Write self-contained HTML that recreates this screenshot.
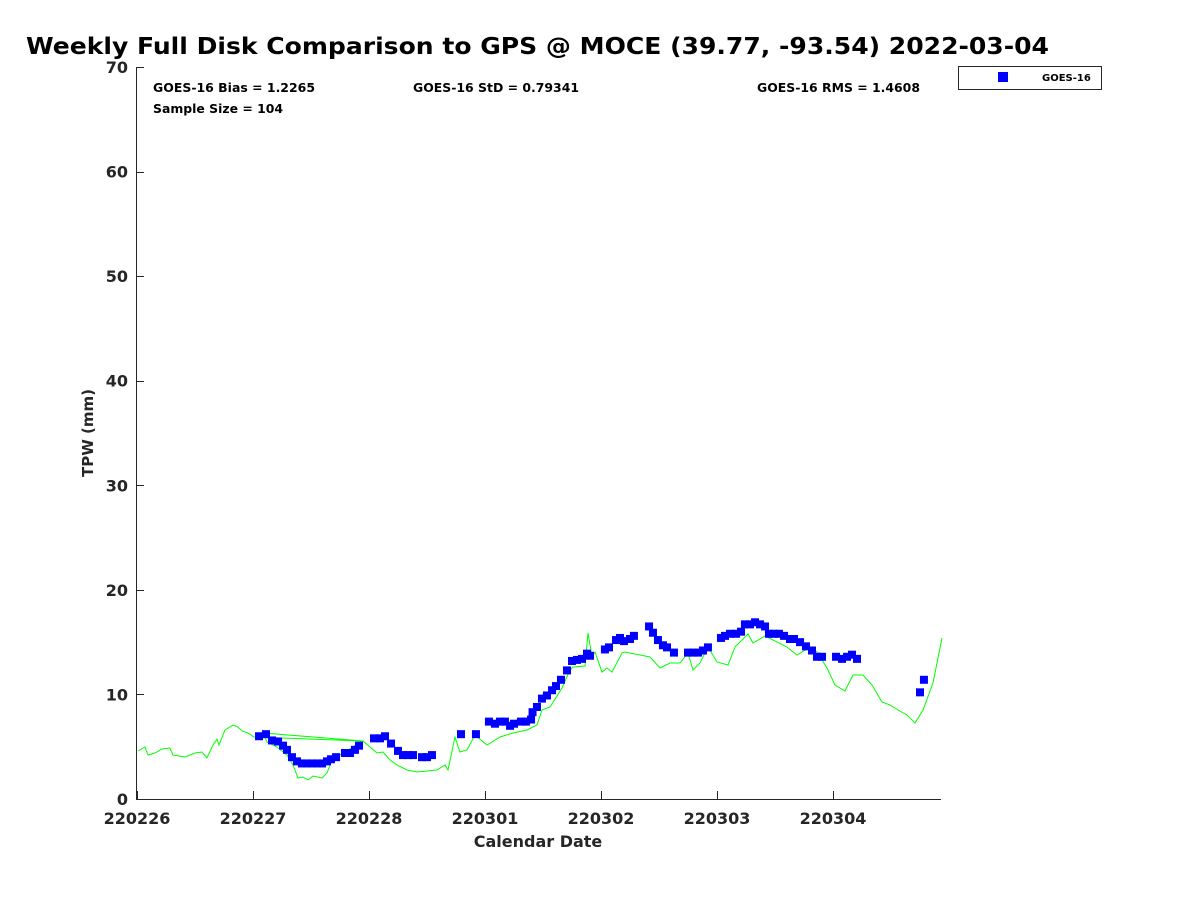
<!DOCTYPE html>
<html><head><meta charset="utf-8"><style>
body{margin:0;background:#fff;}
svg{display:block;font-family:"DejaVu Sans","Liberation Sans",sans-serif;}
</style></head><body>
<svg id="chart" width="1200" height="900" viewBox="0 0 1200 900">
<text x="26" y="54" font-size="23" font-weight="bold" fill="#000" textLength="1023" lengthAdjust="spacingAndGlyphs">Weekly Full Disk Comparison to GPS @ MOCE (39.77, -93.54) 2022-03-04</text>
<g id="axes"></g>
<g id="series"></g>
<text x="153" y="92" font-size="12" font-weight="bold" textLength="162" lengthAdjust="spacingAndGlyphs">GOES-16 Bias = 1.2265</text>
<text x="413" y="92" font-size="12" font-weight="bold" textLength="166" lengthAdjust="spacingAndGlyphs">GOES-16 StD = 0.79341</text>
<text x="757" y="92" font-size="12" font-weight="bold" textLength="163" lengthAdjust="spacingAndGlyphs">GOES-16 RMS = 1.4608</text>
<text x="153" y="113" font-size="12" font-weight="bold" textLength="130" lengthAdjust="spacingAndGlyphs">Sample Size = 104</text>
<g>
<rect x="958.5" y="66.5" width="143" height="23" fill="#fff" stroke="#262626" stroke-width="1"/>
<rect x="998" y="72" width="10" height="10" fill="#0000ff"/>
<text x="1042" y="81" font-size="10" font-weight="bold">GOES-16</text>
</g>
<text x="538" y="847" font-size="16" font-weight="bold" fill="#262626" text-anchor="middle">Calendar Date</text>
<text transform="translate(93,433) rotate(-90)" font-size="15" font-weight="bold" fill="#262626" text-anchor="middle">TPW (mm)</text>
</svg>
<script>
const xTickLabels = ["220226","220227","220228","220301","220302","220303","220304"];
const yTicks = [0,10,20,30,40,50,60,70];
const goesDays = [1.052,1.112,1.164,1.216,1.259,1.293,1.336,1.379,1.422,1.466,1.509,1.552,1.595,1.638,1.672,1.716,1.793,1.836,1.879,1.914,2.043,2.095,2.138,2.190,2.25,2.293,2.336,2.379,2.457,2.5,2.543,2.793,2.922,3.034,3.086,3.129,3.172,3.216,3.25,3.310,3.353,3.397,3.41,3.448,3.491,3.534,3.578,3.612,3.655,3.707,3.75,3.793,3.836,3.879,3.905,4.034,4.069,4.129,4.164,4.198,4.25,4.284,4.414,4.448,4.491,4.534,4.569,4.629,4.75,4.793,4.836,4.879,4.922,5.034,5.069,5.112,5.164,5.207,5.241,5.284,5.328,5.371,5.414,5.448,5.491,5.534,5.578,5.629,5.664,5.716,5.767,5.819,5.862,5.905,6.026,6.078,6.121,6.164,6.207,6.75,6.784];
const goesVals = [6.0,6.2,5.6,5.5,5.1,4.7,4.0,3.6,3.4,3.4,3.4,3.4,3.4,3.6,3.8,4.0,4.4,4.4,4.7,5.1,5.8,5.8,6.0,5.3,4.6,4.2,4.2,4.2,4.0,4.0,4.2,6.2,6.2,7.4,7.2,7.4,7.4,7.0,7.2,7.4,7.4,7.6,8.3,8.8,9.6,9.9,10.4,10.8,11.4,12.3,13.2,13.3,13.4,13.9,13.7,14.3,14.5,15.2,15.4,15.1,15.3,15.6,16.5,15.9,15.2,14.7,14.5,14.0,14.0,14.0,14.0,14.2,14.5,15.4,15.6,15.8,15.8,16.0,16.7,16.7,16.9,16.7,16.5,15.8,15.8,15.8,15.6,15.3,15.3,15.0,14.6,14.2,13.6,13.6,13.6,13.4,13.6,13.8,13.4,10.2,11.4];
const gpsDays = [0.009,0.069,0.095,0.155,0.216,0.284,0.310,0.414,0.5,0.560,0.603,0.655,0.690,0.707,0.759,0.828,0.871,0.905,0.957,1.009,1.948,1.086,1.121,1.207,1.293,1.345,1.388,1.431,1.474,1.517,1.595,1.638,1.681,1.776,1.862,1.922,1.948,2.009,2.069,2.121,2.181,2.241,2.328,2.414,2.5,2.586,2.655,2.681,2.741,2.784,2.845,2.914,3.017,3.129,3.241,3.362,3.448,3.491,3.560,3.664,3.733,3.759,3.862,3.888,3.922,3.948,4.009,4.052,4.095,4.181,4.207,4.336,4.422,4.509,4.595,4.681,4.750,4.793,4.853,4.922,5.0,5.095,5.155,5.267,5.310,5.414,5.483,5.603,5.690,5.802,5.862,5.948,6.017,6.103,6.172,6.259,6.336,6.422,6.491,6.560,6.638,6.707,6.776,6.862,6.940];
const gpsVals = [4.59,4.97,4.21,4.40,4.78,4.88,4.21,4.02,4.40,4.49,3.92,5.16,5.74,5.16,6.60,7.08,6.89,6.50,6.31,5.93,5.55,6.31,5.45,4.97,4.21,3.25,2.01,2.10,1.82,2.20,2.01,2.49,3.73,4.40,4.97,5.45,5.55,4.97,4.40,4.49,3.73,3.25,2.77,2.58,2.68,2.77,3.25,2.77,5.93,4.49,4.69,6.12,5.16,5.93,6.31,6.60,7.08,8.51,8.80,10.61,12.34,12.62,12.72,15.87,13.58,14.06,12.14,12.53,12.14,13.96,14.06,13.77,13.58,12.53,13.01,13.01,13.96,12.34,13.01,14.54,13.10,12.81,14.54,15.78,14.92,15.59,15.21,14.54,13.77,14.54,14.06,12.53,10.90,10.33,11.86,11.86,10.90,9.28,8.99,8.51,8.03,7.27,8.51,11.09,15.40];

const NS="http://www.w3.org/2000/svg";
const X0=137, PX_PER_DAY=116, Y0=799, PX_PER_UNIT=(799-67)/70;
const xs=d=>X0+d*PX_PER_DAY;
const ys=v=>Y0-v*PX_PER_UNIT;
function mk(tag,attrs,parent){const e=document.createElementNS(NS,tag);for(const k in attrs)e.setAttribute(k,attrs[k]);parent.appendChild(e);return e;}
const axes=document.getElementById('axes');
const series=document.getElementById('series');
const xl=mk('line',{x1:136.5,y1:799.5,x2:941,y2:799.5,stroke:'#262626','stroke-width':1},axes);


const yl=mk('line',{x1:136.5,y1:67,x2:136.5,y2:799.5,stroke:'#262626','stroke-width':1},axes);


xTickLabels.forEach((lab,i)=>{
  const x=Math.round(xs(i))+0.5;
  const t=mk('line',{x1:x,y1:799,x2:x,y2:791,stroke:'#262626'},axes);
  
  
  const tx=mk('text',{x:xs(i),y:824,'font-size':16,'font-weight':'bold',fill:'#262626','text-anchor':'middle'},axes);
  tx.textContent=lab;
  
  
});
yTicks.forEach(v=>{
  const y=Math.round(ys(v))+0.5;
  const t=mk('line',{x1:136,y1:y,x2:144,y2:y,stroke:'#262626'},axes);
  
  
  const tx=mk('text',{x:128,y:ys(v)+6,'font-size':16,'font-weight':'bold',fill:'#262626','text-anchor':'end'},axes);
  tx.textContent=String(v);
  
  
});
const pts=gpsDays.map((d,i)=>xs(d).toFixed(1)+','+ys(gpsVals[i]).toFixed(1)).join(' ');
const gl=mk('polyline',{points:pts,fill:'none',stroke:'#00ff00','stroke-width':1},series);


goesDays.forEach((d,i)=>{
  const r=mk('rect',{x:xs(d)-4,y:ys(goesVals[i])-4,width:8,height:8,fill:'#0000ff'},series);
  
  
});
</script>
</body></html>
